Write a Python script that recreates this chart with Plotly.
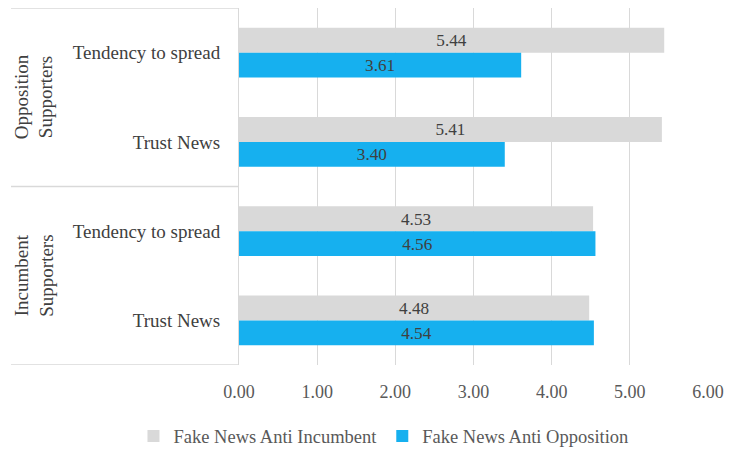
import plotly.graph_objects as go

# Survey results: mean scores by supporter group and measure
groups = ["Opposition Supporters", "Opposition Supporters",
          "Incumbent Supporters", "Incumbent Supporters"]
measures = ["Tendency to spread", "Trust News", "Tendency to spread", "Trust News"]
anti_incumbent = [5.44, 5.41, 4.53, 4.48]
anti_opposition = [3.61, 3.40, 4.56, 4.54]
x_ticks = [0, 1, 2, 3, 4, 5, 6]

FONT = "Liberation Serif"
GRAY = "#d9d9d9"
BLUE = "#16b0ef"
TEXT = "#404040"
TICK = "#595959"

pos = list(range(len(measures)))

fig = go.Figure()
fig.add_trace(go.Bar(
    y=pos, x=anti_incumbent, orientation="h", name="Fake News Anti Incumbent",
    marker=dict(color=GRAY, line=dict(width=0)),
    text=[f"{v:.2f}" for v in anti_incumbent], textposition="inside",
    insidetextanchor="middle", textfont=dict(family=FONT, size=19, color=TEXT),
))
fig.add_trace(go.Bar(
    y=pos, x=anti_opposition, orientation="h", name="Fake News Anti Opposition",
    marker=dict(color=BLUE, line=dict(width=0)),
    text=[f"{v:.2f}" for v in anti_opposition], textposition="inside",
    insidetextanchor="middle", textfont=dict(family=FONT, size=19, color=TEXT),
))

fig.update_layout(
    width=754, height=450,
    margin=dict(l=239, r=46, t=8, b=85, autoexpand=False),
    paper_bgcolor="white", plot_bgcolor="white",
    barmode="group", bargap=0.44, bargroupgap=0,
    font=dict(family=FONT, size=18, color=TICK),
    showlegend=True,
    legend=dict(orientation="h", x=-0.225, xanchor="left",
                y=-0.2, yanchor="middle",
                font=dict(family=FONT, size=18.5, color=TICK),
                traceorder="normal", itemwidth=30),
    uniformtext=dict(mode=False),
)
fig.update_xaxes(
    range=[0, 6], tickvals=x_ticks, ticktext=[f"{t:.2f}" for t in x_ticks],
    showgrid=True, gridcolor=GRAY, gridwidth=1, zeroline=False,
    showline=False, ticks="", ticklabelstandoff=14,
    tickfont=dict(family=FONT, size=18, color=TICK),
    fixedrange=True,
)
fig.update_yaxes(
    range=[3.5, -0.5], tickvals=pos, ticktext=measures,
    showgrid=False, zeroline=False, showline=True, linecolor=GRAY, linewidth=1,
    ticks="", ticklabelstandoff=14,
    tickfont=dict(family=FONT, size=19, color=TEXT),
)

# Group separators in the label column
for yv in [-0.5, 1.5, 3.5]:
    fig.add_shape(type="line", xref="paper", yref="y",
                  x0=-228 / 469, x1=0, y0=yv, y1=yv,
                  line=dict(color=GRAY, width=1.5))

# Rotated group labels
group_names = ["Opposition<br>Supporters", "Incumbent<br>Supporters"]
group_centers = [0.5, 2.5]
for name, yc in zip(group_names, group_centers):
    fig.add_annotation(text=name, xref="paper", yref="y", x=-205 / 469, y=yc,
                       xanchor="center", yanchor="middle",
                       textangle=-90, showarrow=False, align="center",
                       font=dict(family=FONT, size=19, color=TEXT))

fig.write_html("out.html")
